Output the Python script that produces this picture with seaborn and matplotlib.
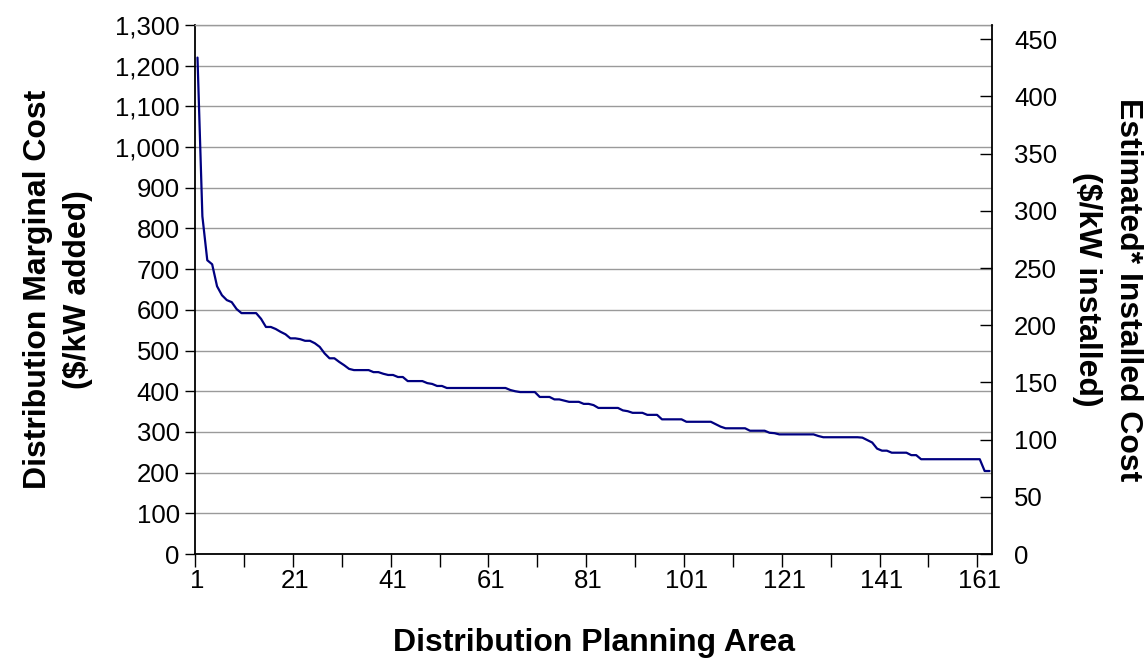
import numpy as np
import pandas as pd
import matplotlib
matplotlib.use("Agg")
import matplotlib.pyplot as plt
import seaborn as sns
from matplotlib.ticker import FuncFormatter, FixedLocator

# Marginal cost per planning area, sorted high to low ($/kW added)
marginal_cost = [
    1220, 830, 722, 712, 658, 636, 624, 619, 602, 592,
    592, 592, 592, 578, 558, 558, 553, 546, 540, 530,
    530, 528, 524, 524, 518, 509, 493, 481, 481, 472,
    464, 455, 452, 452, 452, 452, 447, 447, 443, 440,
    440, 435, 435, 425, 425, 425, 425, 420, 418, 413,
    413, 408, 408, 408, 408, 408, 408, 408, 408, 408,
    408, 408, 408, 408, 403, 400, 398, 398, 398, 398,
    386, 386, 386, 380, 380, 377, 374, 374, 374, 369,
    369, 366, 359, 359, 359, 359, 359, 353, 351, 347,
    347, 347, 342, 342, 342, 331, 331, 331, 331, 331,
    325, 325, 325, 325, 325, 325, 319, 313, 309, 309,
    309, 309, 309, 303, 303, 303, 303, 298, 297, 294,
    294, 294, 294, 294, 294, 294, 294, 290, 287, 287,
    287, 287, 287, 287, 287, 287, 286, 280, 274, 259,
    254, 254, 249, 249, 249, 249, 243, 243, 233, 233,
    233, 233, 233, 233, 233, 233, 233, 233, 233, 233,
    233, 204, 204,
]
planning_area = list(range(1, len(marginal_cost) + 1))
x_labels = [1, 21, 41, 61, 81, 101, 121, 141, 161]
left_ticks = list(range(0, 1301, 100))
right_ticks = list(range(0, 451, 50))

df = pd.DataFrame({"area": planning_area, "cost": marginal_cost})

sns.set_style("white")
plt.rcParams["font.family"] = ["Liberation Sans", "DejaVu Sans"]
plt.rcParams["text.color"] = "black"
plt.rcParams["axes.labelcolor"] = "black"
plt.rcParams["xtick.color"] = "black"
plt.rcParams["ytick.color"] = "black"

fig = plt.figure(figsize=(11.48, 6.62), dpi=100)
ax = fig.add_axes([0.1699, 0.1631, 0.8641 - 0.1699, 0.9622 - 0.1631])

sns.lineplot(data=df, x="area", y="cost", ax=ax, color="#000080", linewidth=1.6)

n = len(marginal_cost)
ax.set_xlim(0.5, n + 0.5)
ax.set_ylim(0, 1300)

# left axis
ax.yaxis.set_major_locator(FixedLocator(left_ticks))
ax.yaxis.set_major_formatter(FuncFormatter(lambda v, p: f"{int(v):,}"))
ax.grid(axis="y", color="#9a9a9a", linewidth=1.0)
ax.grid(axis="x", visible=False)
ax.tick_params(axis="y", which="major", direction="out", length=7, width=1,
               labelsize=18.5, pad=4, left=True)

# x axis: labels every 20, tick marks between categories every 10
ax.xaxis.set_major_locator(FixedLocator(x_labels))
ax.xaxis.set_minor_locator(FixedLocator(np.arange(0.5, n + 0.5, 10)))
ax.tick_params(axis="x", which="major", length=0, labelsize=18.5, pad=11)
ax.tick_params(axis="x", which="minor", direction="out", length=9, width=1,
               bottom=True)

for side in ["left", "bottom"]:
    ax.spines[side].set_color("black")
    ax.spines[side].set_linewidth(1.3)
ax.spines["top"].set_color("#9a9a9a")
ax.spines["top"].set_linewidth(1.0)
ax.spines["right"].set_visible(False)

ax.set_xlabel("Distribution Planning Area", fontsize=23, fontweight="bold")
ax.xaxis.set_label_coords(0.5, -0.14)
ax.set_ylabel("Distribution Marginal Cost\n($/kW added)", fontsize=23,
              fontweight="bold", linespacing=1.45)
ax.yaxis.set_label_coords(-0.128, 0.5)

# right axis
ax2 = ax.twinx()
ax2.set_ylim(0, 462.4)
ax2.yaxis.set_major_locator(FixedLocator(right_ticks))
ax2.tick_params(axis="y", which="major", direction="in", length=9, width=1,
                labelsize=18.5, pad=16, right=True)
ax2.grid(False)
for side in ["left", "bottom", "top"]:
    ax2.spines[side].set_visible(False)
ax2.spines["right"].set_color("black")
ax2.spines["right"].set_linewidth(1.3)
ax2.set_ylabel("Estimated* Installed Cost\n($/kW installed)", fontsize=23,
               fontweight="bold", rotation=270, linespacing=1.45)
ax2.yaxis.set_label_coords(1.189, 0.5)

fig.savefig("out.png", dpi=100)
